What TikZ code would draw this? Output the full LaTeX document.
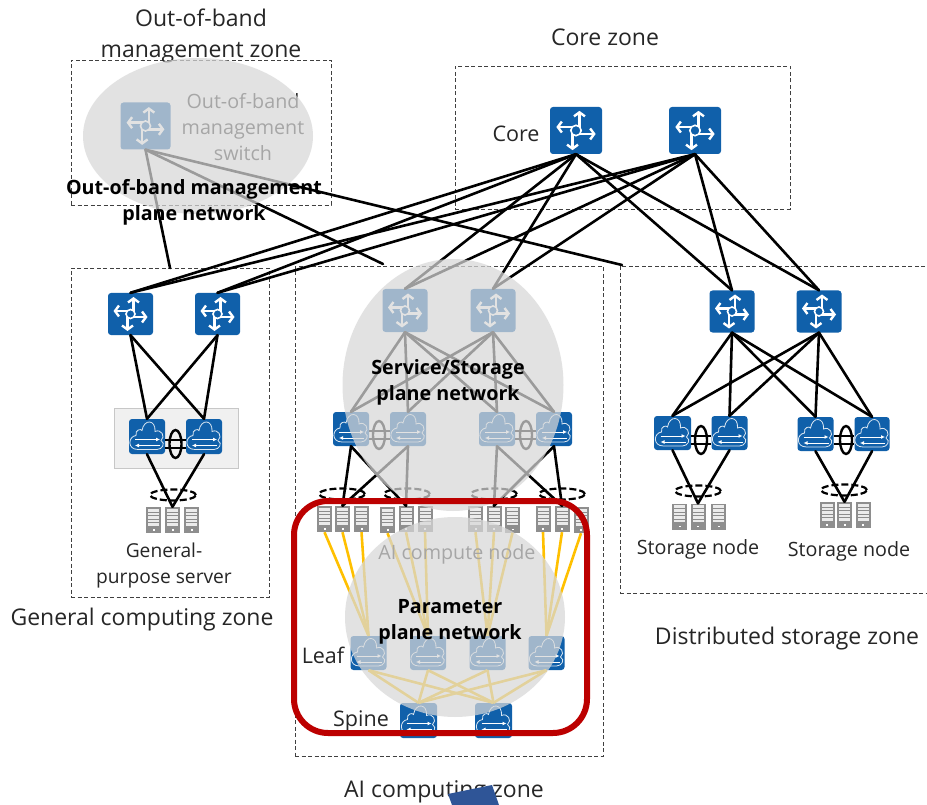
\documentclass[tikz,border=0pt]{standalone}
\usepackage{fontspec}
\setmainfont{Open Sans}
\usetikzlibrary{arrows.meta,shapes.geometric}
\definecolor{hwblue}{HTML}{1060AA}
\definecolor{veilgray}{HTML}{D8D8D8}
\definecolor{linkyellow}{HTML}{FFC000}
\definecolor{redframe}{HTML}{BC0000}
\definecolor{bluetab}{HTML}{2F5597}
\definecolor{srvgray}{HTML}{8E8E8E}
\tikzset{
 x=1pt,y=-1pt,
 zone/.style={draw=black!75,dashed,line width=.8pt,dash pattern=on 4pt off 2.5pt,inner sep=0,fill=none},
 devbox/.style={fill=hwblue,rounded corners=3pt,inner sep=0,draw=none},
 iconline/.style={draw=white,line width=2.4pt,-{Straight Barb[length=4pt,width=11pt]}},
 cloudline/.style={draw=white!85!hwblue,line width=.8pt},
 cloudarrow/.style={draw=white,line width=1pt,-{Latex[length=4pt,width=4pt]}},
 blink/.style={draw=black,line width=2.6pt,line cap=round},
 ylink/.style={draw=linkyellow,line width=2.6pt},
 lagring/.style={draw=black,line width=2.4pt,ellipse,inner sep=0,minimum width=12pt,minimum height=28pt},
 dashring/.style={draw=black,line width=2.2pt,dashed,dash pattern=on 7pt off 3pt,ellipse,inner sep=0,minimum width=46pt,minimum height=11pt},
 veil/.style={ellipse,inner sep=0,fill=veilgray,fill opacity=.72,draw=none},
 srvbox/.style={fill=srvgray,inner sep=0,minimum width=15pt,minimum height=26pt},
 plain/.style={font=\fontsize{23}{31}\selectfont,align=center,inner sep=0,text=black!85},
 small/.style={font=\fontsize{19.7}{26}\selectfont,align=center,inner sep=0,text=black!85},
 tag/.style={font=\fontsize{21.5}{26}\selectfont,align=center,inner sep=0,text=black!85},
 boldlabel/.style={font=\fontsize{19.7}{26}\selectfont\bfseries,align=center,inner sep=0,text=black},
}
\newcommand\rtr[5]{%
 \node[devbox,minimum width=#4pt,minimum height=#5pt] (#1) at (#2,#3) {};
 \begin{scope}[shift={(#1.center)},scale=#4/45]
  \draw[iconline] (3,-1) -- (3,-17);
  \draw[iconline] (-1,-3) -- (-17,-3);
  \draw[iconline] (1,3) -- (17,3);
  \draw[iconline] (-3,1) -- (-3,17);
  \filldraw[fill=hwblue,draw=white,line width=1.6pt] (0,0) circle (4.5);
 \end{scope}}
\newcommand\swc[5]{%
 \node[devbox,minimum width=#4pt,minimum height=#5pt] (#1) at (#2,#3) {};
 \begin{scope}[shift={(#1.center)}]
  \draw[cloudline] (-9,13) .. controls (-20,13) and (-19,0) .. (-11,-1)
     .. controls (-12,-7) and (-6,-8) .. (-5,-6) .. controls (-3,-18) and (9,-17) .. (8,-5)
     .. controls (14,-8) and (19,0) .. (14,4) .. controls (19,7) and (15,13) .. (10,13) -- cycle;
  \draw[cloudarrow] (-12,3) -- (13,3);
  \draw[cloudarrow] (13,9) -- (-12,9);
 \end{scope}}
\newcommand\srv[3]{%
 \node[srvbox] (#1) at (#2,#3) {};
 \begin{scope}[shift={(#1.center)}]
  \fill[white!92!black] (-5.5,-11.5) rectangle (5.5,5.5);
  \foreach \q in {-8,-4.5,-1,2.5} {\draw[black!45,line width=.5pt] (-5.5,\q) -- (5.5,\q);}
  \fill[white] (-1,9) rectangle (1,10.5);
 \end{scope}}
\begin{document}
\begin{tikzpicture}
\useasboundingbox (0,0) rectangle (927,805);
\fill[white] (0,0) rectangle (927,805);
% zones
\node[zone,minimum width=260pt,minimum height=145pt] (zoob) at (201,132.5) {};
\node[zone,minimum width=335pt,minimum height=143pt] (zcore) at (622.5,137.5) {};
\node[zone,minimum width=198pt,minimum height=329pt] (zgen) at (170,432.5) {};
\node[zone,minimum width=308pt,minimum height=490pt] (zai) at (449,511) {};
\node[zone,minimum width=340pt,minimum height=327pt] (zsto) at (790,429.5) {};
\node[fill=black!6,draw=black!22,line width=1pt,inner sep=0,minimum width=124pt,minimum height=60pt] (gbox) at (176,438) {};
% free ends on the zone borders
\coordinate (oobA) at (170,268);
\coordinate (oobB) at (383,264);
\coordinate (oobC) at (622,265);
% devices
\rtr{oob}{145.5}{126}{50}{47}
\rtr{core1}{576}{130.5}{52}{47}
\rtr{core2}{695}{130.5}{52}{47}
\rtr{g1}{130.5}{314}{45}{42}
\rtr{g2}{217.5}{314}{45}{42}
\rtr{a1}{405}{310.5}{45}{43}
\rtr{a2}{493}{310.5}{45}{43}
\rtr{s1}{732}{311.5}{45}{42}
\rtr{s2}{819}{311.5}{45}{42}
\swc{gl1}{147}{436.5}{36}{35}
\swc{gl2}{204}{436.5}{36}{35}
\swc{al1}{351}{429}{36}{34}
\swc{al2}{408}{429}{36}{34}
\swc{al3}{497}{429}{36}{34}
\swc{al4}{554}{429}{36}{34}
\swc{sl1}{672.5}{433}{37}{34}
\swc{sl2}{729.5}{433}{36}{34}
\swc{sl3}{815.5}{434}{36}{34}
\swc{sl4}{872}{434}{35}{34}
\swc{pl1}{368.5}{653}{36}{34}
\swc{pl2}{428}{653}{36}{34}
\swc{pl3}{487.5}{653}{36}{34}
\swc{pl4}{546.5}{653}{36}{34}
\swc{sp1}{418.5}{720.5}{37}{35}
\swc{sp2}{493.5}{720.5}{37}{35}
% servers
\srv{gs1}{153.5}{520}\srv{gs2}{172.5}{520}\srv{gs3}{191.5}{520}
\srv{ss1}{679.5}{516.5}\srv{ss2}{698}{516.5}\srv{ss3}{718.5}{516.5}
\srv{ss4}{827}{515}\srv{ss5}{844.5}{515}\srv{ss6}{863}{515}
\srv{c1}{324.5}{519}\srv{c2}{342.5}{519}\srv{c3}{361.5}{519}
\srv{c4}{387.5}{520}\srv{c5}{406}{519}\srv{c6}{425}{519}
\srv{c7}{475.5}{519}\srv{c8}{494}{519}\srv{c9}{512.5}{519.5}
\srv{c10}{543}{519}\srv{c11}{562}{519}\srv{c12}{581}{520}
% black links
\foreach \e in {oobA,oobB,oobC} \draw[blink] (oob.south) -- (\e);
\foreach \c in {core1,core2} \foreach \t in {g1,g2,a1,a2,s1,s2} \draw[blink] (\c.south) -- (\t.north);
\foreach \a in {g1,g2} \foreach \b in {gl1,gl2} \draw[blink] (\a.south) -- (\b.north);
\foreach \a in {a1,a2} \foreach \b in {al1,al2,al3,al4} \draw[blink] (\a.south) -- (\b.north);
\foreach \a in {s1,s2} \foreach \b in {sl1,sl2,sl3,sl4} \draw[blink] (\a.south) -- (\b.north);
\foreach \a/\b in {gl1/gs2,gl2/gs2,al1/c2,al2/c2,al1/c5,al2/c5,al3/c8,al4/c8,al3/c11,al4/c11,sl1/ss2,sl2/ss2,sl3/ss5,sl4/ss5}
  \draw[blink] (\a.south) -- (\b.north);
% stacking links and rings
\foreach \a/\b/\r/\x/\y in {gl1/gl2/lg/175.5/444,al1/al2/la/379/435,al3/al4/lb/526/435,sl1/sl2/lc/701/440,sl3/sl4/ld/846/440}{
  \node[lagring] (\r) at (\x,\y) {};
  \draw[blink,line cap=butt] ([yshift=4pt]\a.east |- \r.center) -- ([yshift=4pt]\b.west |- \r.center);
  \draw[blink,line cap=butt] ([yshift=-4pt]\a.east |- \r.center) -- ([yshift=-4pt]\b.west |- \r.center);
}
\foreach \r/\x/\y in {dg/173/495,d1/342/494,d2/407/494,d3/494/494,d4/562/494,d5/698/491,d6/844/490}
  \node[dashring] (\r) at (\x,\y) {};
% yellow links
\foreach \s/\l in {c1/pl1,c2/pl1,c3/pl1,c4/pl2,c5/pl2,c6/pl2,c7/pl3,c8/pl3,c9/pl3,c10/pl4,c11/pl4,c12/pl4}
  \draw[ylink] (\s.south) -- (\l.north);
\foreach \l in {pl1,pl2,pl3,pl4} \foreach \s in {sp1,sp2} \draw[ylink] (\l.south) -- (\s.north);
% plain labels
\node[plain] (tzoob) at (201,36) {Out-of-band\\management zone};
\node[plain] (tzcore) at (605,37) {Core zone};
\node[tag] (tcore) at (516,134) {Core};
\node[small] (tswitch) at (243,127) {Out-of-band\\management\\switch};
\node[small,font=\fontsize{19.2}{26}\selectfont] (tgps) at (164,566) {General-\\purpose server};
\node[small] (taic) at (457,554) {AI compute node};
\node[small] (tst1) at (698,549) {Storage node};
\node[small] (tst2) at (849,551) {Storage node};
\node[plain] (tzgen) at (142,620) {General computing zone};
\node[plain] (tzsto) at (787,639) {Distributed storage zone};
\node[plain] (tzai) at (444,792) {AI computing zone};
\node[tag] (tleaf) at (323,655) {Leaf};
\node[tag] (tspine) at (361,721) {Spine};
% veils
\node[veil,minimum width=230pt,minimum height=156pt] (voob) at (198,136) {};
\node[veil,minimum width=221pt,minimum height=252pt] (vsvc) at (453,385) {};
\node[veil,minimum width=220pt,minimum height=200pt] (vpar) at (455,617) {};
% bold labels
\node[boldlabel] (boob) at (194,202) {Out-of-band management\\plane network};
\node[boldlabel] (bsvc) at (448,382) {Service/Storage\\plane network};
\node[boldlabel] (bpar) at (450,622) {Parameter\\plane network};
% frame and tab
\node[draw=redframe,line width=6pt,rounded corners=34pt,inner sep=0,minimum width=293pt,minimum height=232pt] (frame) at (440.5,617) {};
\fill[bluetab] (448,794) -- (492,785) -- (499,805) -- (452,805) -- cycle;
\end{tikzpicture}
\end{document}
